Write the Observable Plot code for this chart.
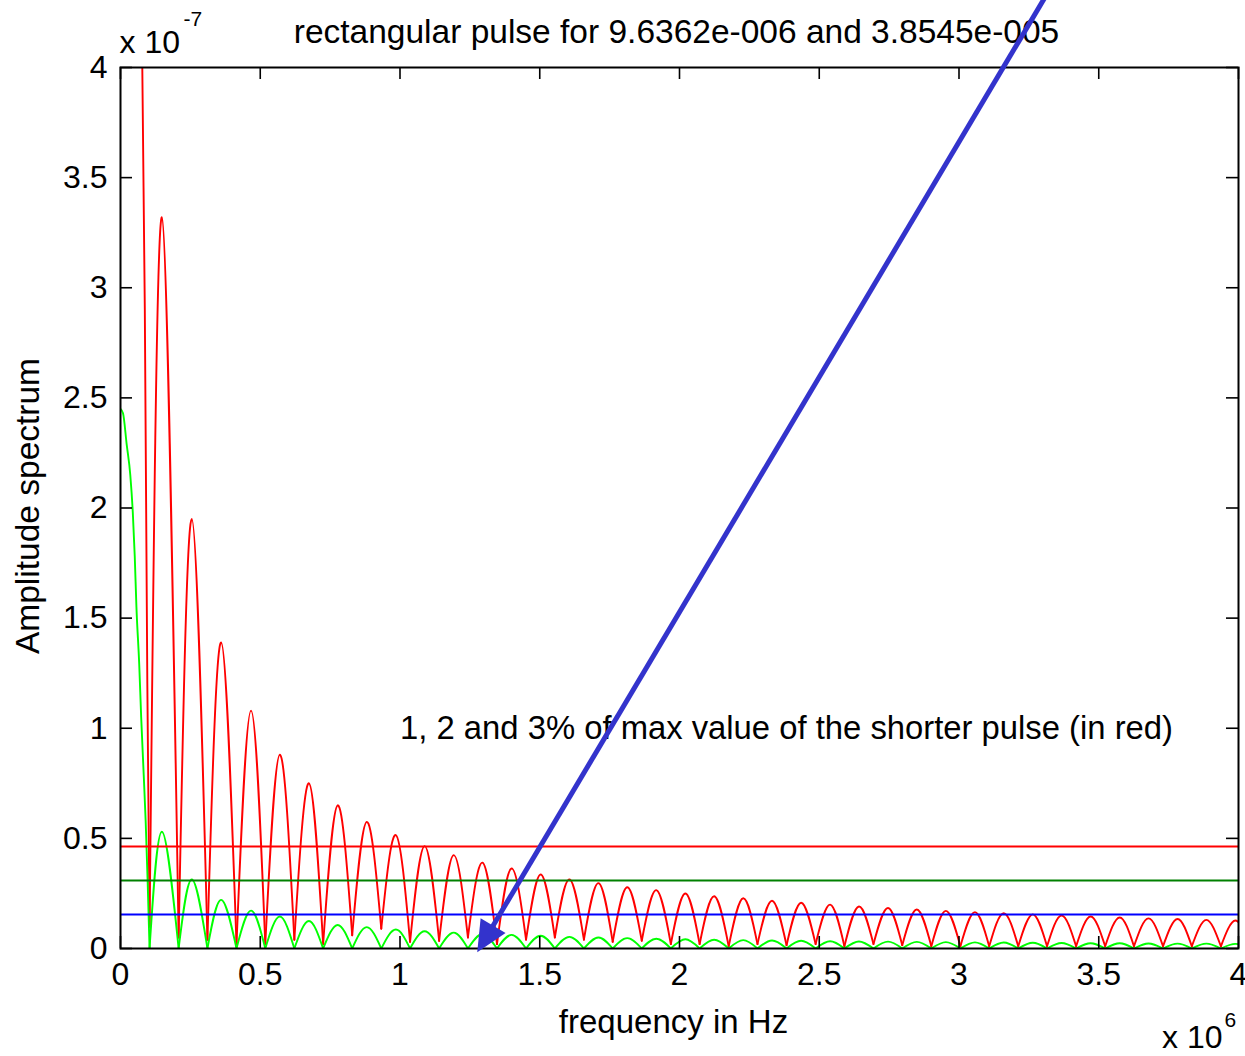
<!DOCTYPE html>
<html><head><meta charset="utf-8">
<script src="https://cdn.jsdelivr.net/npm/d3@7"></script>
<script src="https://cdn.jsdelivr.net/npm/@observablehq/plot@0.6"></script>
<style>html,body{margin:0;padding:0;background:#fff;} svg{display:block}</style>
</head><body><div id="chart"></div>
<script>
// Units: frequency in 10^6 Hz, amplitude in 10^-7
const xTicks = [0, 0.5, 1, 1.5, 2, 2.5, 3, 3.5, 4];
const yTicks = [0, 0.5, 1, 1.5, 2, 2.5, 3, 3.5, 4];

// zero crossings of the spectra
const lobeZeros = [0.104, 0.208, 0.311, 0.415, 0.518, 0.622, 0.725, 0.829, 0.933, 1.036,
  1.140, 1.243, 1.347, 1.451, 1.554, 1.658, 1.761, 1.865, 1.969, 2.072,
  2.176, 2.279, 2.383, 2.487, 2.590, 2.694, 2.797, 2.901, 3.005, 3.108,
  3.212, 3.315, 3.419, 3.523, 3.626, 3.730, 3.833, 3.937, 4.040];
// red curve minima at those zeros (coarse sampling keeps them above 0)
const redTroughs = [0.10, 0.05, 0.04, 0.02, 0.02, 0.04, 0.02, 0.06, 0.09, 0.03,
  0.035, 0.05, 0.02, 0.04, 0.05, 0.04, 0.03, 0.035, 0.02, 0.02,
  0.01, 0.02, 0.015, 0.02, 0.01, 0.02, 0.015, 0.01, 0.01, 0.01,
  0.01, 0.01, 0.01, 0.01, 0.01, 0.01, 0.01, 0.01, 0.01];
const greenTroughs = [0, 0, 0, 0, 0, 0, 0, 0, 0, 0, 0, 0, 0, 0, 0, 0, 0, 0, 0, 0,
  0, 0, 0, 0, 0, 0, 0, 0, 0, 0, 0, 0, 0, 0, 0, 0, 0, 0, 0];
// side-lobe peaks
const lobePeakFreq = [0.148, 0.255, 0.360, 0.467, 0.570, 0.674, 0.777, 0.881, 0.985, 1.088,
  1.192, 1.295, 1.399, 1.503, 1.606, 1.710, 1.813, 1.917, 2.021, 2.124,
  2.228, 2.331, 2.435, 2.539, 2.642, 2.746, 2.849, 2.953, 3.057, 3.160,
  3.264, 3.367, 3.471, 3.575, 3.678, 3.782, 3.885, 3.989];
const redPeaks = [3.32, 1.95, 1.39, 1.08, 0.88, 0.75, 0.65, 0.575, 0.515, 0.465,
  0.424, 0.39, 0.363, 0.336, 0.314, 0.297, 0.278, 0.265, 0.25, 0.237,
  0.228, 0.217, 0.208, 0.199, 0.191, 0.184, 0.177, 0.171, 0.165, 0.160,
  0.155, 0.150, 0.145, 0.141, 0.137, 0.134, 0.130, 0.127];
const greenPeaks = [0.53, 0.313, 0.221, 0.172, 0.145, 0.125, 0.107, 0.097, 0.086, 0.078,
  0.072, 0.066, 0.062, 0.058, 0.053, 0.05, 0.047, 0.044, 0.042, 0.040,
  0.038, 0.036, 0.035, 0.033, 0.032, 0.031, 0.030, 0.029, 0.028, 0.027,
  0.026, 0.025, 0.024, 0.024, 0.023, 0.022, 0.022, 0.021];
// main lobes
const redMainFreq = [0, 0.03, 0.05, 0.065, 0.078, 0.087, 0.096, 0.104];
const redMainAmp  = [15.45, 13.6, 10.0, 6.6, 4.0, 2.9, 1.2, 0.10];
const greenMainFreq = [0, 0.009, 0.022, 0.035, 0.044, 0.051, 0.057, 0.067, 0.074, 0.083, 0.090, 0.097, 0.104];
const greenMainAmp  = [2.45, 2.43, 2.29, 2.15, 1.98, 1.78, 1.55, 1.29, 1.05, 0.79, 0.58, 0.31, 0];

// 1, 2, 3 % levels
const thresholdLevels = [0.4635, 0.309, 0.1545];
const thresholdColors = ["#ff0000", "#008000", "#0000ff"];

// annotation arrow (from, to) in data units
const arrowFrom = [3.313, 4.33];
const arrowTo = [1.291, 0.014];

const titleText = "rectangular pulse for 9.6362e-006 and 3.8545e-005";
const noteText = "1, 2 and 3% of max value of the shorter pulse (in red)";
const notePos = [1.0, 1.0];
const xLabel = "frequency in Hz";
const yLabel = "Amplitude spectrum";

function lobes(peaks, troughs) {
  const rows = [];
  for (let k = 0; k < peaks.length; k++) {
    rows.push({lobe: k, f: lobeZeros[k], a: troughs[k]});
    rows.push({lobe: k, f: lobePeakFreq[k], a: peaks[k]});
    rows.push({lobe: k, f: lobeZeros[k + 1], a: troughs[k + 1]});
  }
  return rows;
}
const redLobes = lobes(redPeaks, redTroughs);
const greenLobes = lobes(greenPeaks, greenTroughs);
const redMain = redMainFreq.map((f, i) => ({f, a: redMainAmp[i]}));
const greenMain = greenMainFreq.map((f, i) => ({f, a: greenMainAmp[i]}));
const thresholds = thresholdLevels.map((v, i) => ({v, c: thresholdColors[i]}));
const arrowData = [{x1: arrowFrom[0], y1: arrowFrom[1], x2: arrowTo[0], y2: arrowTo[1]}];

function filledHead(color, context) {
  const doc = (context && context.document) || document;
  const ns = "http://www.w3.org/2000/svg";
  const m = doc.createElementNS(ns, "marker");
  m.setAttribute("viewBox", "-25 -16 35 32");
  m.setAttribute("markerWidth", 35);
  m.setAttribute("markerHeight", 32);
  m.setAttribute("markerUnits", "userSpaceOnUse");
  m.setAttribute("refX", 0);
  m.setAttribute("refY", 0);
  m.setAttribute("orient", "auto");
  const p = doc.createElementNS(ns, "path");
  p.setAttribute("d", "M8,0L-23,-14.5L-23,14.5Z");
  p.setAttribute("fill", color);
  p.setAttribute("stroke", "none");
  m.appendChild(p);
  return m;
}

const W = 1245, H = 1056, mL = 120, mR = 7, mT = 67, mB = 108;
const fw = W - mL - mR, fh = H - mT - mB;
const font = "Liberation Sans, Arial, Helvetica, sans-serif";
const fmt = d => String(d);

function build(marker) {
  return Plot.plot({
    width: W, height: H,
    marginLeft: mL, marginRight: mR, marginTop: mT, marginBottom: mB,
    style: {fontFamily: font, fontSize: "32px", background: "#fff", color: "#000", overflow: "visible"},
    x: {domain: [0, 4], label: null},
    y: {domain: [0, 4], label: null},
    color: {type: "identity"},
    marks: [
      Plot.line(redMain, {x: "f", y: "a", stroke: "#ff0000", strokeWidth: 1.9, curve: "monotone-x", clip: true}),
      Plot.line(redLobes, {x: "f", y: "a", z: "lobe", stroke: "#ff0000", strokeWidth: 1.9, curve: "natural", clip: true}),
      Plot.line(greenMain, {x: "f", y: "a", stroke: "#00ff00", strokeWidth: 1.9, curve: "monotone-x", clip: true}),
      Plot.line(greenLobes, {x: "f", y: "a", z: "lobe", stroke: "#00ff00", strokeWidth: 1.9, curve: "natural", clip: true}),
      Plot.ruleY(thresholds, {y: "v", stroke: "c", strokeWidth: 2}),
      // inward ticks on all four sides
      Plot.ruleY(yTicks, {y: d => d, insetRight: fw - 12, stroke: "#000", strokeWidth: 1.6}),
      Plot.ruleY(yTicks, {y: d => d, insetLeft: fw - 12, stroke: "#000", strokeWidth: 1.6}),
      Plot.ruleX(xTicks, {x: d => d, insetTop: fh - 12, stroke: "#000", strokeWidth: 1.6}),
      Plot.ruleX(xTicks, {x: d => d, insetBottom: fh - 12, stroke: "#000", strokeWidth: 1.6}),
      Plot.frame({stroke: "#000", strokeWidth: 2}),
      Plot.axisY({ticks: yTicks, tickSize: 0, tickPadding: 13, tickFormat: fmt, label: null, fontSize: 32}),
      Plot.axisX({ticks: xTicks, tickSize: 0, tickPadding: 14, tickFormat: fmt, label: null, fontSize: 32}),
      Plot.text([titleText], {frameAnchor: "top", dx: -3, dy: -25, lineAnchor: "bottom", fontSize: 33.5, text: d => d}),
      Plot.text(["x 10"], {frameAnchor: "top-left", textAnchor: "start", dx: -1, dy: -15, lineAnchor: "bottom", fontSize: 32, text: d => d}),
      Plot.text(["-7"], {frameAnchor: "top-left", textAnchor: "start", dx: 63, dy: -42, lineAnchor: "bottom", fontSize: 21, text: d => d}),
      Plot.text(["x 10"], {frameAnchor: "bottom-right", textAnchor: "end", dx: -16, dy: 99, lineAnchor: "bottom", fontSize: 32, text: d => d}),
      Plot.text(["6"], {frameAnchor: "bottom-right", textAnchor: "start", dx: -14, dy: 78, lineAnchor: "bottom", fontSize: 21, text: d => d}),
      Plot.text([xLabel], {frameAnchor: "bottom", dx: -6, dy: 84, lineAnchor: "bottom", fontSize: 33, text: d => d}),
      Plot.text([yLabel], {frameAnchor: "left", textAnchor: "middle", dx: -92, dy: -2, rotate: -90, lineAnchor: "middle", fontSize: 33.5, text: d => d}),
      Plot.text([noteText], {x: notePos[0], y: notePos[1], textAnchor: "start", lineAnchor: "middle", fontSize: 32.8, text: d => d}),
      Plot.link(arrowData, {x1: "x1", y1: "y1", x2: "x2", y2: "y2", stroke: "#3333cc", strokeWidth: 5, markerEnd: marker})
    ]
  });
}

let chart;
try { chart = build(filledHead); } catch (e) { console.error(e); chart = build("arrow"); }
document.getElementById("chart").appendChild(chart);
</script>
</body></html>
